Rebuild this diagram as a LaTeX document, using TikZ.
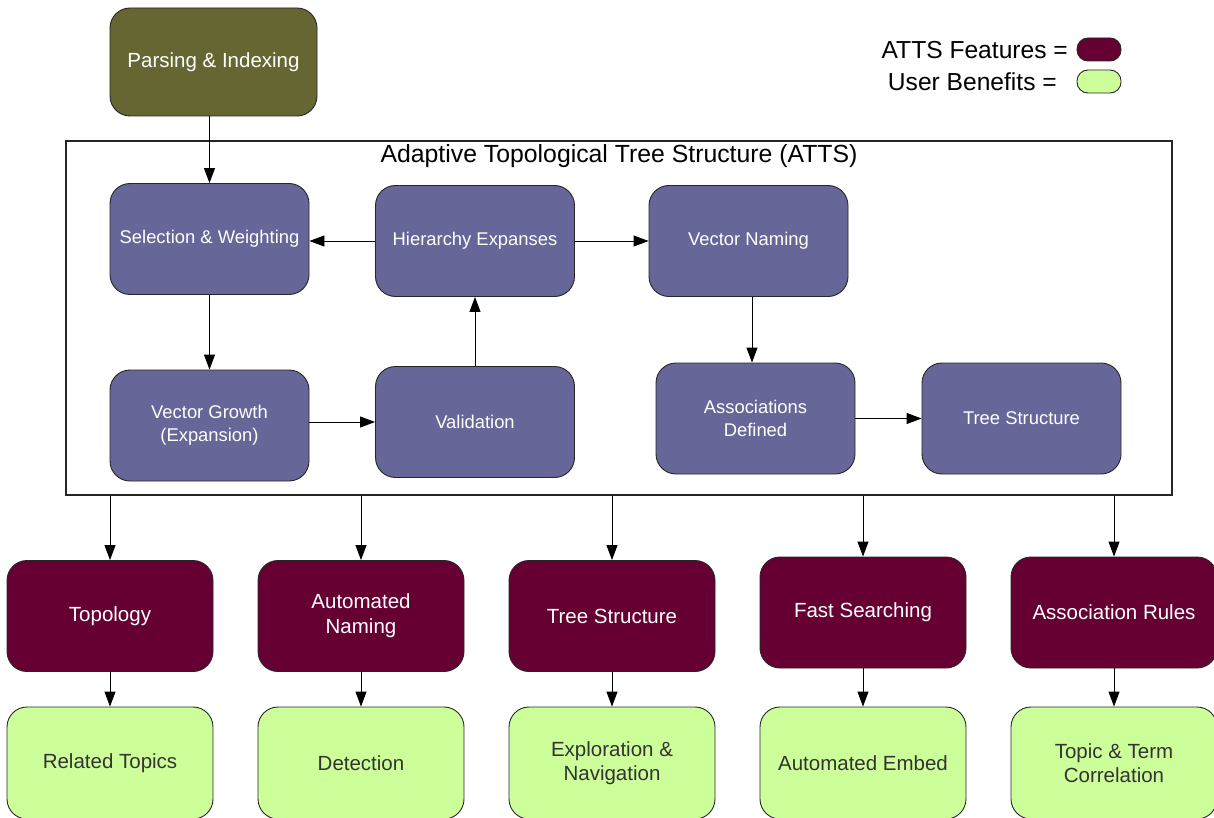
\documentclass[tikz,border=0pt]{standalone}
\usepackage{fontspec}
\setmainfont{Liberation Sans}
\usetikzlibrary{arrows.meta}
\definecolor{olivebox}{HTML}{666633}
\definecolor{attsbox}{HTML}{666699}
\definecolor{featbox}{HTML}{660033}
\definecolor{benefbox}{HTML}{CCFF99}
\definecolor{benefink}{HTML}{333333}
\tikzset{
  base/.style={draw=black!85, line width=0.9pt, rounded corners=20pt, align=center,
    inner sep=0pt},
  topbox/.style={base, fill=olivebox, text=white, minimum width=207pt, minimum height=108pt,
    font=\fontsize{20.5}{24}\selectfont},
  innerbox/.style={base, fill=attsbox, text=white, minimum width=199pt, minimum height=111pt,
    font=\fontsize{18.4}{23}\selectfont},
  featbox/.style={base, fill=featbox, text=white, minimum width=206pt, minimum height=111pt,
    font=\fontsize{20.5}{25}\selectfont},
  benbox/.style={base, fill=benefbox, text=benefink, minimum width=206pt, minimum height=112pt,
    font=\fontsize{20.5}{24}\selectfont},
  pill/.style={draw=black!85, line width=0.9pt, rounded corners=11pt, minimum width=44pt,
    minimum height=23pt, inner sep=0pt},
  legendtext/.style={anchor=east, inner sep=0pt, font=\fontsize{24.6}{28}\selectfont},
  conn/.style={draw=black, line width=0.9pt, -{Triangle[length=15pt,width=11pt]}}
}
\begin{document}
\begin{tikzpicture}[x=1pt,y=-1pt]
\useasboundingbox (0,0) rectangle (1214,818);

% source box
\node[topbox] (parse) at (213.5,62) {Parsing \& Indexing};

% legend
\node[pill, fill=featbox] (legf) at (1099,49.5) {};
\node[pill, fill=benefbox] (legb) at (1099,81.5) {};
\node[legendtext] (legft) at (1068,50) {ATTS Features =};
\node[legendtext] (legbt) at (1057,82) {User Benefits =};

% ATTS container
\node[draw=black!85, line width=1.2pt, minimum width=1106pt, minimum height=354pt, inner sep=0pt]
  (atts) at (619,318) {};
\node[inner sep=0pt, font=\fontsize{24.8}{28}\selectfont] (attstitle) at (619,156)
  {Adaptive Topological Tree Structure (ATTS)};

% ATTS stages
\node[innerbox] (sel) at (209.5,239) {Selection \& Weighting};
\node[innerbox] (hier) at (475,241) {Hierarchy Expanses};
\node[innerbox] (vname) at (748.5,241) {Vector Naming};
\node[innerbox] (grow) at (209.5,425.5) {Vector Growth\\(Expansion)};
\node[innerbox] (valid) at (475,422) {Validation};
\node[innerbox] (assoc) at (755.5,418.5) {Associations\\Defined};
\node[innerbox] (tree) at (1021.5,418.5) {Tree Structure};

% features
\node[featbox] (f1) at (110,616) {Topology};
\node[featbox] (f2) at (361,616) {Automated\\Naming};
\node[featbox] (f3) at (612,616) {Tree Structure};
\node[featbox] (f4) at (863,612.5) {Fast Searching};
\node[featbox] (f5) at (1114,612.5) {Association Rules};

% benefits
\node[benbox] (b1) at (110,763) {Related Topics};
\node[benbox] (b2) at (361,763) {Detection};
\node[benbox] (b3) at (612,763) {Exploration \&\\Navigation};
\node[benbox] (b4) at (863,763) {Automated Embed};
\node[benbox] (b5) at (1114,763) {Topic \& Term\\Correlation};

% connectors
\draw[conn] (sel.north |- parse.south) -- (sel.north);
\draw[conn] (hier.west) -- (hier.west -| sel.east);
\draw[conn] (hier.east) -- (hier.east -| vname.west);
\draw[conn] (sel.south) -- (grow.north);
\draw[conn] (valid.west -| grow.east) -- (valid.west);
\draw[conn] (valid.north) -- (hier.north |- hier.south);
\draw[conn] ([xshift=3.5pt]vname.south) -- ([xshift=-3.5pt]assoc.north);
\draw[conn] (assoc.east) -- (tree.west);

\foreach \i in {1,...,5}{
  \draw[conn] (atts.south -| f\i.north) -- (f\i.north);
  \draw[conn] (f\i.south) -- (b\i.north);
}
\end{tikzpicture}
\end{document}
